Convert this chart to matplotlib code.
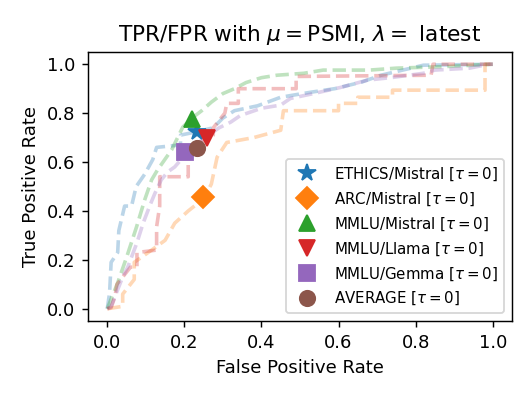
import matplotlib
matplotlib.use("Agg")
import matplotlib.pyplot as plt

# ROC curves (dashed, faint)
ethics_fpr = [0, 0.006, 0.01, 0.027, 0.03, 0.045, 0.063, 0.075, 0.097, 0.118, 0.128, 0.19, 0.19,
              0.22, 0.275, 0.30, 0.33, 0.39, 0.45, 0.48, 0.53, 0.59, 0.66, 0.71, 0.82, 1.0]
ethics_tpr = [0, 0.065, 0.19, 0.23, 0.32, 0.42, 0.42, 0.50, 0.55, 0.61, 0.66, 0.67, 0.71,
              0.72, 0.74, 0.78, 0.81, 0.83, 0.865, 0.873, 0.886, 0.90, 0.927, 0.955, 0.996, 1.0]

arc_fpr = [0, 0.04, 0.04, 0.07, 0.07, 0.115, 0.15, 0.175, 0.21, 0.25, 0.27, 0.285, 0.31, 0.38,
           0.45, 0.457, 0.60, 0.60, 0.65, 0.65, 0.74, 0.74, 0.98, 0.98, 1.0]
arc_tpr = [0, 0.01, 0.06, 0.12, 0.19, 0.24, 0.28, 0.35, 0.40, 0.45, 0.51, 0.62, 0.68, 0.70,
           0.73, 0.81, 0.81, 0.84, 0.84, 0.865, 0.865, 0.894, 0.894, 1.0, 1.0]

mmlu_mistral_fpr = [0, 0.006, 0.027, 0.05, 0.076, 0.097, 0.115, 0.13, 0.167, 0.196, 0.22, 0.245,
                    0.27, 0.30, 0.33, 0.36, 0.40, 0.44, 0.51, 0.56, 0.68, 0.75, 0.87, 1.0]
mmlu_mistral_tpr = [0, 0.024, 0.106, 0.21, 0.335, 0.445, 0.527, 0.567, 0.65, 0.743, 0.78, 0.81,
                    0.845, 0.88, 0.90, 0.925, 0.945, 0.955, 0.963, 0.976, 0.976, 0.984, 0.99, 1.0]

mmlu_llama_fpr = [0, 0.01, 0.02, 0.025, 0.06, 0.077, 0.077, 0.128, 0.128, 0.136, 0.136, 0.21, 0.21,
                  0.24, 0.275, 0.275, 0.305, 0.31, 0.34, 0.34, 0.49, 0.49, 0.84, 0.845, 1.0]
mmlu_llama_tpr = [0, 0.005, 0.05, 0.10, 0.17, 0.17, 0.23, 0.24, 0.335, 0.42, 0.54, 0.54, 0.65,
                  0.68, 0.71, 0.74, 0.80, 0.84, 0.84, 0.90, 0.90, 0.95, 0.955, 1.0, 1.0]

mmlu_gemma_fpr = [0, 0.01, 0.025, 0.04, 0.053, 0.077, 0.093, 0.11, 0.123, 0.14, 0.157, 0.175, 0.197,
                  0.22, 0.254, 0.29, 0.32, 0.345, 0.40, 0.45, 0.475, 0.535, 0.605, 0.675, 0.74,
                  0.82, 0.85, 0.94, 0.99, 1.0]
mmlu_gemma_tpr = [0, 0.01, 0.07, 0.13, 0.17, 0.27, 0.35, 0.42, 0.47, 0.527, 0.56, 0.58, 0.62,
                  0.66, 0.70, 0.74, 0.763, 0.79, 0.82, 0.833, 0.86, 0.88, 0.905, 0.935, 0.946,
                  0.963, 0.976, 0.984, 1.0, 1.0]

# operating points at tau = 0
labels = ["ETHICS/Mistral", "ARC/Mistral", "MMLU/Mistral", "MMLU/Llama", "MMLU/Gemma", "AVERAGE"]
point_fpr = [0.232, 0.249, 0.219, 0.258, 0.201, 0.232]
point_tpr = [0.724, 0.458, 0.776, 0.697, 0.642, 0.659]
markers = ["*", "D", "^", "v", "s", "o"]

curves = [(ethics_fpr, ethics_tpr), (arc_fpr, arc_tpr), (mmlu_mistral_fpr, mmlu_mistral_tpr),
          (mmlu_llama_fpr, mmlu_llama_tpr), (mmlu_gemma_fpr, mmlu_gemma_tpr)]

dpi = 130
fig, ax = plt.subplots(figsize=(532 / dpi, 399 / dpi), dpi=dpi)
fig.subplots_adjust(left=88 / 532, right=512 / 532, top=1 - 52 / 399, bottom=1 - 321 / 399)

for i, (fx, ty) in enumerate(curves):
    ax.plot(fx, ty, "--", color=f"C{i}", lw=2, alpha=0.3)

for i in range(len(labels)):
    ax.plot(point_fpr[i], point_tpr[i], marker=markers[i], color=f"C{i}", ls="none",
            ms=10 if markers[i] == "*" else 8.5, label=labels[i] + r" [$\tau=0$]")

ax.set_xlabel("False Positive Rate")
ax.set_ylabel("True Positive Rate")
ax.set_title(r"TPR/FPR with $\mu=$PSMI, $\lambda=$ latest")
ax.legend(loc="lower right", fontsize="small")

fig.savefig("out.png", dpi=dpi)
